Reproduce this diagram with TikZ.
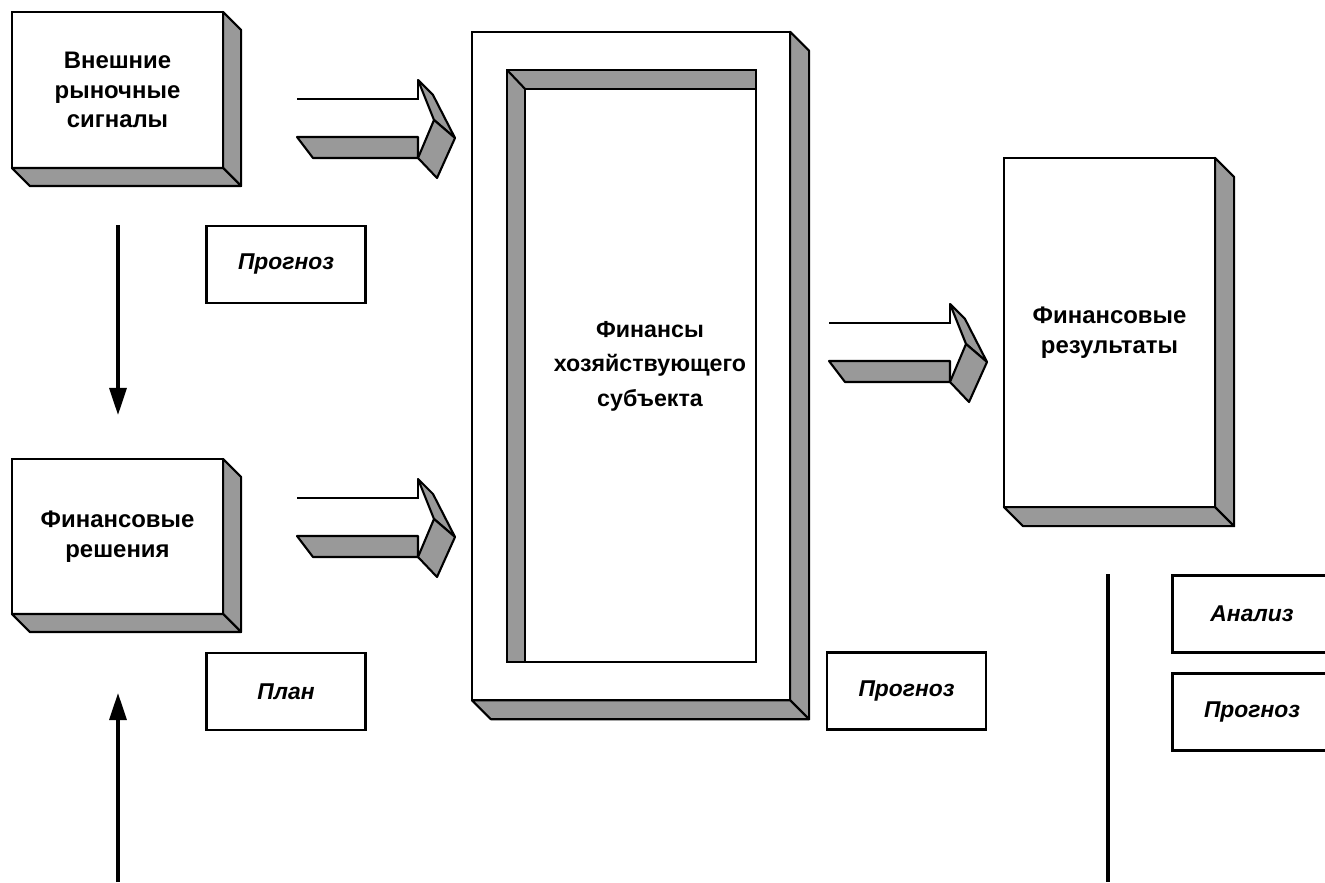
\documentclass[tikz,border=0pt]{standalone}
\usepackage{fontspec}
\setmainfont{Liberation Sans}
\usetikzlibrary{arrows.meta,calc,positioning}
\definecolor{shade}{RGB}{153,153,153}

\begin{document}
\begin{tikzpicture}[x=0.01cm,y=-0.01cm,line width=0.6pt,
    font=\fontsize{6.8}{8.5}\selectfont\bfseries,
    >={Triangle[width=1.7mm,length=2.7mm]}]
    \tikzset{
      block/.style={draw, fill=white, inner sep=0pt, outer sep=0pt, align=center},
      tag/.style={draw, fill=white, inner sep=0pt, outer sep=0pt, minimum width=1.59cm, minimum height=0.77cm, font=\fontsize{6.5}{8}\selectfont\bfseries\itshape},
      shadeface/.style={draw, fill=shade, line join=round},
      flow/.style={->, line width=0.9pt},
      blockarrow/.pic={
        \draw (0,0) -- (121,0) -- (121,-19);
        \filldraw[shadeface] (0,38) -- (121,38) -- (121,59) -- (16,59) -- cycle;
        \filldraw[shadeface] (121,-19) -- (136,-4) -- (158,39) -- (137,21) -- cycle;
        \filldraw[shadeface] (137,21) -- (158,39) -- (140,79) -- (121,59) -- cycle;
      }
    }
    \clip (0,0) rectangle (1325,882);
    % boxes with depth
    \node[block, minimum width=2.11cm, minimum height=1.56cm] (sig) at (117.5,90) {Внешние\\рыночные\\сигналы};
    \node[block, minimum width=2.11cm, minimum height=1.55cm] (dec) at (117.5,536.5) {Финансовые\\решения};
    \node[block, minimum width=3.18cm, minimum height=6.68cm] (fin) at (631,366) {};
    \node[block, minimum width=2.11cm, minimum height=3.49cm] (res) at (1109.5,332.5) {Финансовые\\результаты};
    \foreach \n/\d in {sig/18,dec/18,fin/19,res/19} {
      \filldraw[shadeface] (\n.north east) -- ++(\d,\d) -- ($(\n.south east)+(\d,\d)$) -- (\n.south east) -- cycle;
      \filldraw[shadeface] (\n.south west) -- (\n.south east) -- ++(\d,\d) -- ($(\n.south west)+(\d,\d)$) -- cycle;
    }
    % recessed inner panel
    \node[block, fill=shade, minimum width=2.49cm, minimum height=5.92cm] (well) at (631.5,366) {};
    \node[block, minimum width=2.31cm, minimum height=5.73cm] (core) at (640.5,375.5) {};
    \draw (well.north west) -- (core.north west);
    \node[align=center, font=\fontsize{6.6}{9.8}\selectfont\bfseries] (corelabel) at (650,366) {Финансы\\хозяйствующего\\субъекта};
    % block arrows
    \pic at (297,99) {blockarrow};
    \pic at (297,498) {blockarrow};
    \pic at (829,323) {blockarrow};
    % small labels
    \node[tag] (prog1) at (286,264.5) {Прогноз};
    \node[tag] (plan) at (286,691.5) {План};
    \node[tag] (prog2) at (906.5,691) {Прогноз};
    \node[tag] (anal) at (1252,614) {Анализ};
    \node[tag] (prog3) at (1252,712) {Прогноз};
    % thin arrows
    \coordinate (d0) at (118,225);
    \coordinate (d1) at (118,415);
    \coordinate (u0) at (118,882);
    \coordinate (u1) at (118,693);
    \coordinate (r0) at (1108,574);
    \coordinate (r1) at (1108,882);
    \draw[flow] (d0) -- (d1);
    \draw[flow] (u0) -- (u1);
    \draw[line width=0.9pt] (r0) -- (r1);
  \end{tikzpicture}
\end{document}
